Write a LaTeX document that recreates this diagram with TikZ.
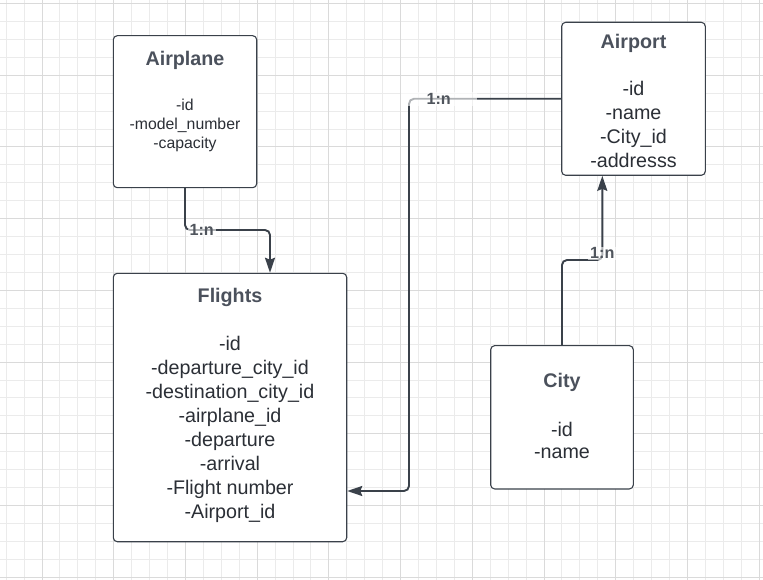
\documentclass[tikz,border=0pt]{standalone}
\usepackage{fontspec}
\setmainfont{Liberation Sans}
\usetikzlibrary{arrows.meta,calc}
\definecolor{ink}{HTML}{3A414A}
\definecolor{titlec}{HTML}{4B515C}
\definecolor{textc}{HTML}{2B2F36}
\definecolor{labelc}{HTML}{50555D}
\definecolor{gridminor}{HTML}{EBEBEB}
\definecolor{gridmajor}{HTML}{DADADA}
\tikzset{
  entity/.style={draw=ink, line width=1.1pt, rounded corners=4pt, fill=white, inner sep=0pt},
  titletext/.style={anchor=base, inner sep=0pt, text=titlec, font=\bfseries\fontsize{19.7}{23}\selectfont},
  attrtext/.style={anchor=base, inner sep=0pt, text=textc, font=\fontsize{19.7}{23}\selectfont},
  smallattr/.style={anchor=base, inner sep=0pt, text=textc, font=\fontsize{15.8}{19}\selectfont},
  conn/.style={draw=ink, line width=1.9pt, rounded corners=5pt},
  arrowconn/.style={conn, -{Stealth[length=15pt,width=10pt,inset=2pt]}},
  reltext/.style={text=labelc, font=\bfseries\fontsize{16.2}{19}\selectfont, fill=white, fill opacity=0.6, text opacity=1, inner ysep=1pt, inner xsep=2pt}
}
\begin{document}
\begin{tikzpicture}[x=1pt,y=-1pt]
\useasboundingbox (0,0) rectangle (763,580);
\fill[white] (0,0) rectangle (763,580);
% grid
\foreach \i in {0,...,42} {
  \draw[gridminor, line width=1pt] ({6.14+17.93*\i},0) -- ({6.14+17.93*\i},580);
}
\foreach \i in {0,...,32} {
  \draw[gridminor, line width=1pt] (0,{3.5+17.93*\i}) -- (763,{3.5+17.93*\i});
}
\foreach \i in {0,...,10} {
  \draw[gridmajor, line width=1pt] ({42+71.72*\i},0) -- ({42+71.72*\i},580);
}
\foreach \i in {0,...,8} {
  \draw[gridmajor, line width=1pt] (0,{3.5+71.72*\i}) -- (763,{3.5+71.72*\i});
}
% entities
\node[entity, minimum width=143.4pt, minimum height=152pt] (airplane) at (185,111.7) {};
\node[entity, minimum width=143.6pt, minimum height=153pt] (airport) at (633.5,98.8) {};
\node[entity, minimum width=233.4pt, minimum height=268.4pt] (flights) at (230,407.5) {};
\node[entity, minimum width=142.6pt, minimum height=143.3pt] (city) at (562,417.3) {};
% Airplane text
\node[titletext] (airplane-t) at (185,65.7) {Airplane};
\node[smallattr] (airplane-1) at (185,110.8) {-id};
\node[smallattr] (airplane-2) at (185,129.8) {-model\_number};
\node[smallattr] (airplane-3) at (185,148.8) {-capacity};
% Airport text
\node[titletext] (airport-t) at (633.5,48.3) {Airport};
\node[attrtext] (airport-1) at (633.5,96) {-id};
\node[attrtext] (airport-2) at (633.5,120) {-name};
\node[attrtext] (airport-3) at (633.5,144) {-City\_id};
\node[attrtext] (airport-4) at (633.5,168) {-addresss};
% Flights text
\node[titletext] (flights-t) at (230,302.5) {Flights};
\node[attrtext] (flights-1) at (230,350.7) {-id};
\node[attrtext] (flights-2) at (230,374.7) {-departure\_city\_id};
\node[attrtext] (flights-3) at (230,398.7) {-destination\_city\_id};
\node[attrtext] (flights-4) at (230,422.7) {-airplane\_id};
\node[attrtext] (flights-5) at (230,446.7) {-departure};
\node[attrtext] (flights-6) at (230,470.7) {-arrival};
\node[attrtext] (flights-7) at (230,494.7) {-Flight number};
\node[attrtext] (flights-8) at (230,518.7) {-Airport\_id};
% City text
\node[titletext] (city-t) at (562,387.3) {City};
\node[attrtext] (city-1) at (562,436) {-id};
\node[attrtext] (city-2) at (562,458.7) {-name};
% connectors
\coordinate (abend) at (270,230);
\draw[arrowconn] (airplane.south) |- (abend) -- (abend |- flights.north);
\coordinate (bbend) at (409,491);
\draw[arrowconn] (airport.west) -| (bbend) -- (bbend -| flights.east);
\coordinate (cbend) at (602.3,260);
\draw[arrowconn] (city.north) |- (cbend) -- (cbend |- airport.south);
% relation labels
\node[reltext] (rel-a) at (201.7,230) {1:n};
\node[reltext, inner xsep=26pt] (rel-b) at (438.7,99) {1:n};
\node[reltext] (rel-c) at (602.3,253.3) {1:n};
\end{tikzpicture}
\end{document}
